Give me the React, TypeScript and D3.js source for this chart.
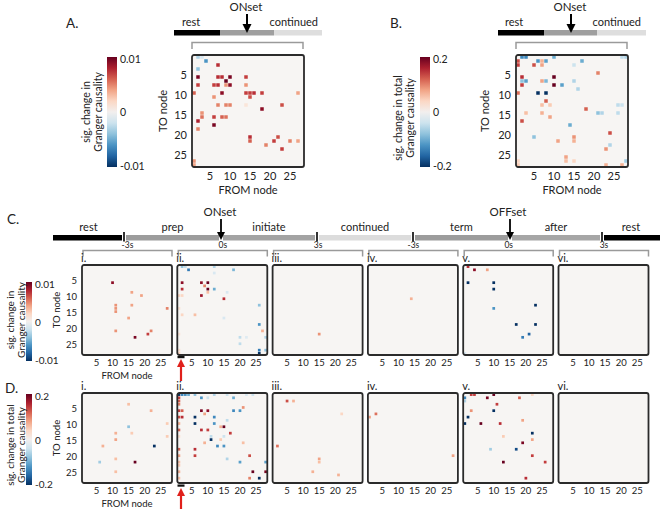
import React from "react";
import * as d3 from "d3";

// ---------------- DATA ----------------
const nodes = d3.range(1, 29); // 28 nodes
const nodeTicks = [5, 10, 15, 20, 25];

type Cell = [number, number, number]; // [FROM node, TO node, value]

const maxGC = 0.01; // Granger causality colour range
const maxTotal = 0.2; // total Granger causality colour range
const ticksGC = ["0.01", "0", "-0.01"];
const ticksTotal = ["0.2", "0", "-0.2"];

const cellsA: Cell[] = [
  [2, 1, -0.003], [3, 1, -0.0015], [4, 2, -0.006], [7, 3, 0.0075], [2, 4, -0.004],
  [2, 6, 0.0095], [7, 6, 0.0075], [8, 6, 0.0075], [10, 6, 0.0095], [14, 6, 0.007],
  [9, 7, 0.01],
  [2, 8, 0.007], [6, 8, 0.007], [7, 8, 0.0075], [9, 8, 0.0045], [10, 8, 0.009], [14, 8, 0.0045],
  [1, 10, 0.006], [8, 10, 0.009], [14, 10, 0.007], [15, 10, 0.007], [16, 10, 0.0075], [18, 10, 0.007], [27, 10, 0.004],
  [6, 11, 0.0045], [15, 11, 0.0065],
  [7, 13, 0.005], [9, 13, 0.005], [10, 13, 0.005], [14, 13, 0.0012], [23, 13, 0.0065],
  [18, 14, 0.009], [3, 15, 0.0045],
  [3, 16, 0.0055], [6, 16, 0.007], [8, 16, 0.006], [9, 16, 0.0055],
  [2, 17, 0.008], [6, 18, 0.0095], [2, 19, 0.005],
  [15, 21, 0.0075],
  [15, 22, 0.006], [21, 22, 0.007], [22, 21, 0.0065], [25, 22, 0.005], [27, 22, 0.004],
  [19, 23, 0.005], [23, 24, 0.007],
  [1, 27, 0.0045], [1, 28, 0.004],
];

const cellsB: Cell[] = [
  [2, 1, -0.13], [3, 1, -0.13], [10, 1, -0.1], [27, 1, -0.05], [28, 1, -0.06],
  [1, 2, 0.13], [6, 2, -0.12], [7, 2, 0.07], [8, 2, -0.11], [17, 2, -0.1],
  [1, 3, 0.14], [5, 3, 0.13], [7, 3, 0.08], [15, 3, -0.04],
  [21, 5, 0.1],
  [2, 6, 0.15], [10, 6, 0.2],
  [2, 7, -0.08], [3, 7, -0.11], [7, 7, 0.08], [8, 7, -0.09], [15, 7, -0.06],
  [2, 8, 0.14], [10, 8, 0.2], [12, 8, -0.11],
  [16, 9, -0.06],
  [1, 10, 0.11], [6, 10, -0.2], [8, 10, -0.2],
  [8, 12, 0.12],
  [7, 13, 0.06], [9, 13, 0.05], [26, 13, -0.05], [27, 13, -0.04],
  [18, 14, 0.12],
  [3, 15, 0.06], [7, 15, 0.07], [21, 15, -0.08], [22, 15, -0.06], [26, 15, -0.05],
  [9, 16, 0.08], [2, 17, 0.13], [14, 18, -0.1],
  [24, 20, 0.13],
  [5, 21, -0.08], [15, 21, 0.09],
  [11, 22, 0.08], [15, 22, 0.07],
  [24, 23, -0.06], [23, 24, 0.09],
  [13, 26, 0.08],
  [1, 27, 0.04], [13, 27, 0.06], [15, 27, 0.04], [28, 27, -0.07],
  [1, 28, 0.05], [23, 28, 0.07], [27, 28, 0.07],
];

// Row C: Granger causality per epoch
const cellsC1: Cell[] = [
  [10, 6, 0.009], [16, 9, 0.004], [19, 10, 0.004], [11, 13, 0.0045], [16, 13, 0.004],
  [11, 14, 0.0045], [11, 15, 0.0045], [27, 14, 0.005], [15, 17, 0.004], [11, 21, 0.0045],
  [17, 23, 0.0095], [21, 22, 0.007], [22, 21, 0.005],
];
const cellsC2: Cell[] = [
  [2, 1, -0.004], [3, 1, -0.0025], [4, 2, -0.007], [12, 1, -0.003], [12, 3, -0.0015], [18, 2, -0.0045],
  [2, 6, 0.009], [2, 8, 0.0075], [2, 10, 0.002], [1, 10, 0.002],
  [8, 6, 0.009], [9, 7, 0.005], [10, 6, 0.01], [10, 8, 0.01], [10, 9, 0.003], [12, 8, -0.005], [16, 9, -0.0015],
  [8, 10, 0.0085], [15, 11, 0.0075],
  [1, 14, 0.0015], [2, 16, 0.002], [6, 16, 0.003], [15, 17, -0.0015],
  [26, 13, -0.004], [26, 19, -0.006], [27, 21, 0.0035], [20, 23, -0.0025], [22, 23, -0.0012],
  [20, 25, -0.0025], [28, 23, -0.003], [28, 27, -0.004], [26, 27, -0.007], [26, 28, -0.01],
  [1, 22, 0.0012], [1, 27, 0.0015], [1, 28, 0.002],
];
const cellsC3: Cell[] = [[15, 22, 0.0045]];
const cellsC4: Cell[] = [[14, 11, 0.0035]];
const cellsC5: Cell[] = [
  [2, 1, 0.0075], [4, 2, 0.009], [8, 2, 0.004], [2, 6, -0.01], [10, 6, -0.01], [10, 8, -0.01],
  [10, 14, -0.006], [23, 13, -0.01], [17, 19, -0.01], [23, 19, -0.01], [21, 22, -0.008],
  [19, 23, -0.007], [1, 28, -0.0015],
];
const cellsC6: Cell[] = [];

// Row D: total Granger causality per epoch
const cellsD1: Cell[] = [
  [15, 4, 0.06], [22, 6, 0.07], [27, 10, 0.05], [15, 11, -0.08], [11, 13, 0.07], [16, 13, 0.05],
  [11, 15, 0.08], [27, 14, 0.05], [23, 17, -0.2], [7, 17, 0.07], [11, 21, 0.06], [6, 22, -0.07],
  [17, 22, 0.2], [11, 25, 0.06],
];
const cellsD2: Cell[] = [
  [1, 1, -0.2], [2, 1, -0.13], [3, 1, -0.12], [4, 1, -0.1], [6, 1, -0.08], [12, 1, -0.06],
  [16, 1, -0.04], [22, 1, -0.03], [24, 1, -0.04], [8, 2, -0.12], [10, 2, -0.04], [18, 2, -0.1],
  [1, 2, 0.14], [1, 3, 0.12], [1, 4, 0.1], [1, 6, 0.14], [2, 6, 0.12], [1, 8, 0.13], [2, 8, 0.15],
  [1, 10, 0.07], [1, 12, 0.12], [1, 14, 0.03], [1, 18, 0.12], [1, 20, 0.08], [1, 22, 0.06],
  [1, 23, 0.05], [1, 25, 0.07], [1, 27, 0.06],
  [6, 8, -0.2], [6, 10, -0.2], [8, 6, 0.19], [10, 6, 0.18], [9, 7, 0.08], [12, 8, -0.13],
  [12, 10, -0.12], [16, 9, -0.05], [18, 6, -0.13], [20, 6, -0.12], [21, 5, 0.09],
  [8, 12, 0.15], [10, 12, 0.14], [14, 11, 0.07], [15, 11, 0.2], [17, 13, 0.14], [11, 14, -0.05],
  [11, 15, -0.2], [13, 17, -0.13], [15, 14, -0.04], [15, 17, -0.12], [14, 15, 0.05], [9, 16, 0.07],
  [21, 16, 0.06], [6, 18, 0.15], [6, 20, 0.14], [16, 21, -0.06], [23, 20, 0.13], [20, 22, -0.11],
  [28, 22, -0.11], [24, 25, 0.2], [28, 25, 0.19], [23, 27, 0.1], [26, 27, -0.2],
];
const cellsD3: Cell[] = [
  [5, 3, 0.13], [7, 3, 0.07], [22, 7, 0.04], [2, 17, 0.11], [15, 21, 0.08], [15, 22, 0.06],
  [13, 25, 0.07], [21, 26, 0.07],
];
const cellsD4: Cell[] = [[1, 8, 0.08], [3, 7, 0.11], [27, 20, 0.08]];
const cellsD5: Cell[] = [
  [1, 2, -0.13], [1, 3, -0.06], [3, 1, 0.14], [4, 1, 0.14], [8, 2, 0.19], [10, 1, 0.2],
  [18, 2, 0.12], [22, 1, 0.04], [3, 6, 0.09], [2, 8, -0.2], [1, 10, -0.2], [6, 10, 0.2],
  [10, 6, -0.2], [11, 4, 0.14], [12, 10, 0.15], [19, 9, 0.08], [22, 13, -0.2], [13, 14, 0.05],
  [19, 16, 0.19], [22, 15, 0.08], [9, 18, -0.07], [17, 18, -0.18], [22, 20, 0.14], [13, 22, 0.2],
  [26, 22, 0.14], [20, 27, 0.15],
];
const cellsD6: Cell[] = [];

const cellsRowC = [cellsC1, cellsC2, cellsC3, cellsC4, cellsC5, cellsC6];
const cellsRowD = [cellsD1, cellsD2, cellsD3, cellsD4, cellsD5, cellsD6];

const romanLabels = ["i.", "ii.", "iii.", "iv.", "v.", "vi."];
const phaseLabels = ["rest", "prep", "initiate", "continued", "term", "after", "rest"];
const phaseShades = ["#000000", "#9c9c9c", "#a3a3a3", "#dcdcdc", "#9c9c9c", "#a6a6a6", "#000000"];
const bracketLabels = ["-3s", "0s", "3s", "-3s", "0s", "3s"];
const shortPhases = ["rest", "", "continued"];
const shortShades = ["#000000", "#9f9f9f", "#dedede"];

// ---------------- LAYOUT ----------------
const FONT = "Lato, 'Open Sans', sans-serif";
const TXT = "#222";
const phaseEdges = [53, 124, 221, 317, 413, 510, 602, 660];
const rowX = d3.range(6).map((i) => 82 + i * 95.3);

function Arrow({ x, y1, y2, color, w, hw, hl }: any) {
  return (
    <g>
      <line x1={x} x2={x} y1={y1} y2={y2 - hl + 1} stroke={color} strokeWidth={w} />
      <path d={`M${x - hw / 2},${y2 - hl} L${x + hw / 2},${y2 - hl} L${x},${y2} Z`} fill={color} />
    </g>
  );
}

function ArrowUp({ x, y1, y2, color, w, hw, hl }: any) {
  return (
    <g>
      <line x1={x} x2={x} y1={y1} y2={y2 + hl - 1} stroke={color} strokeWidth={w} />
      <path d={`M${x - hw / 2},${y2 + hl} L${x + hw / 2},${y2 + hl} L${x},${y2} Z`} fill={color} />
    </g>
  );
}

function Matrix({ x, y, size, cells, max, yTicks, xTicks, titles, fs, yTitleOff }: any) {
  const sc = d3.scaleBand<number>().domain(nodes).range([0, size]);
  const color = d3.scaleDiverging<string>(d3.interpolateRdBu).domain([max, 0, -max]);
  const bw = sc.bandwidth();
  return (
    <g transform={`translate(${x},${y})`} fontFamily={FONT} fill={TXT}>
      <rect width={size} height={size} fill="#f7f5f3" rx={2} />
      {cells.map(([f, t, v]: Cell, i: number) => (
        <rect key={i} x={sc(f)! + 0.25} y={sc(t)! + 0.25} width={bw - 0.5} height={bw - 0.5} fill={color(v)} />
      ))}
      <rect width={size} height={size} fill="none" stroke="#2b2b2b" strokeWidth={1.8} rx={2} />
      {yTicks &&
        nodeTicks.map((n) => (
          <text key={"y" + n} x={-5} y={sc(n)! + bw / 2 + 1} textAnchor="end" dominantBaseline="central" fontSize={fs}>
            {n}
          </text>
        ))}
      {xTicks &&
        nodeTicks.map((n) => (
          <text key={"x" + n} x={sc(n)! + bw / 2} y={size + fs + 1.5} textAnchor="middle" fontSize={fs}>
            {n}
          </text>
        ))}
      {titles && (
        <g>
          <text x={size / 2} y={size + fs * 2 + 4.5} textAnchor="middle" fontSize={fs}>
            FROM node
          </text>
          <text transform={`translate(${-yTitleOff},${size / 2}) rotate(-90)`} textAnchor="middle" fontSize={fs}>
            TO node
          </text>
        </g>
      )}
    </g>
  );
}

function ColorBar({ id, x, y, w, h, labels, lines, fs, l1, l2 }: any) {
  const stops = d3.range(0, 1.0001, 0.1);
  return (
    <g fontFamily={FONT} fill={TXT}>
      <defs>
        <linearGradient id={id} x1="0" y1="0" x2="0" y2="1">
          {stops.map((t) => (
            <stop key={t} offset={`${t * 100}%`} stopColor={d3.interpolateRdBu(t)} />
          ))}
        </linearGradient>
      </defs>
      <rect x={x} y={y} width={w} height={h} fill={`url(#${id})`} />
      {labels.map((lab: string, i: number) => (
        <text key={i} x={x + w + 3} y={y + (h * i) / 2 + (i === 0 ? 2 : i === 2 ? -1 : 0)} dominantBaseline="central" fontSize={fs}>
          {lab}
        </text>
      ))}
      <text transform={`translate(${l1[0]},${l1[1]}) rotate(-90)`} textAnchor="middle" dominantBaseline="central" fontSize={fs}>
        {lines[0]}
      </text>
      <text transform={`translate(${l2[0]},${l2[1]}) rotate(-90)`} textAnchor="middle" dominantBaseline="central" fontSize={fs}>
        {lines[1]}
      </text>
    </g>
  );
}

function ShortTimeline({ edges, labelRest, labelCont, arrowX }: any) {
  return (
    <g fontFamily={FONT} fill={TXT}>
      {shortShades.map((c, i) => (
        <rect key={i} x={edges[i]} y={30} width={edges[i + 1] - edges[i]} height={5.5} fill={c} />
      ))}
      <text x={labelRest} y={26} fontSize={11}>
        {shortPhases[0]}
      </text>
      <text x={labelCont} y={26} fontSize={11} textAnchor="end">
        {shortPhases[2]}
      </text>
      <text x={arrowX} y={11} fontSize={11.5} textAnchor="middle">
        ONset
      </text>
      <Arrow x={arrowX + 1} y1={14} y2={33} color="#000" w={2} hw={9} hl={9} />
    </g>
  );
}

function Bracket({ x1, x2, y, h, label, fs }: any) {
  return (
    <g>
      <path d={`M${x1},${y + h} L${x1},${y} L${x2},${y} L${x2},${y + h}`} fill="none" stroke="#9a9a9a" strokeWidth={1.5} />
      {label && (
        <text x={(x1 + x2) / 2} y={y - 3} textAnchor="middle" fontSize={fs} fontFamily={FONT} fill={TXT}>
          {label}
        </text>
      )}
    </g>
  );
}

export default function App() {
  const tickLines = [124, 317, 413, 602];
  return (
    <svg width={666} height={509} style={{ position: "absolute", left: 0, top: 0, background: "#fff" }}>
      <rect width={666} height={509} fill="#fff" />
      {/* ---------- Panel A ---------- */}
      <text x={66} y={28} fontSize={13.5} fontFamily={FONT} fill={TXT}>A.</text>
      <ShortTimeline edges={[174, 220, 274, 322]} labelRest={182} labelCont={318} arrowX={246} />
      <Bracket x1={192} x2={303} y={42.5} h={6.5} />
      <ColorBar id="cbA" x={107} y={57} w={10} h={110} labels={ticksGC} fs={10.5}
        lines={["sig. change in", "Granger causality"]} l1={[86, 112]} l2={[98, 112]} />
      <Matrix x={192} y={55} size={112} cells={cellsA} max={maxGC} yTicks xTicks titles fs={11} yTitleOff={25} />

      {/* ---------- Panel B ---------- */}
      <text x={390} y={28} fontSize={13.5} fontFamily={FONT} fill={TXT}>B.</text>
      <ShortTimeline edges={[498, 544, 597, 646]} labelRest={505} labelCont={641} arrowX={570} />
      <Bracket x1={516} x2={627} y={42.5} h={6.5} />
      <ColorBar id="cbB" x={420} y={57} w={10} h={110} labels={ticksTotal} fs={10.5}
        lines={["sig. change in total", "Granger causality"]} l1={[398, 118]} l2={[410, 118]} />
      <Matrix x={516} y={55} size={112} cells={cellsB} max={maxTotal} yTicks xTicks titles fs={11} yTitleOff={27} />

      {/* ---------- Panel C timeline ---------- */}
      <text x={7} y={224} fontSize={13.5} fontFamily={FONT} fill={TXT}>C.</text>
      {phaseLabels.map((lab, i) => {
        const a = phaseEdges[i] + (i === 0 ? 0 : 2);
        const b = phaseEdges[i + 1] - (i === phaseLabels.length - 1 ? 0 : 2);
        return (
          <g key={i}>
            <rect x={a} y={235} width={b - a} height={5.5} fill={phaseShades[i]} />
            <text x={(phaseEdges[i] + phaseEdges[i + 1]) / 2} y={231} textAnchor="middle" fontSize={11} fontFamily={FONT} fill={TXT}>
              {lab}
            </text>
          </g>
        );
      })}
      {tickLines.map((t) => (
        <line key={t} x1={t} x2={t} y1={232} y2={241.5} stroke="#000" strokeWidth={1.6} />
      ))}
      <text x={220} y={216} textAnchor="middle" fontSize={11.5} fontFamily={FONT} fill={TXT}>ONset</text>
      <Arrow x={221} y1={219} y2={240} color="#000" w={1.8} hw={8} hl={8} />
      <text x={508} y={216} textAnchor="middle" fontSize={11.5} fontFamily={FONT} fill={TXT}>OFFset</text>
      <Arrow x={510} y1={219} y2={240} color="#000" w={1.8} hw={8} hl={8} />
      {rowX.map((x, i) => (
        <Bracket key={i} x1={x + 1} x2={x + 90} y={250.5} h={6} label={bracketLabels[i]} fs={8.5} />
      ))}

      {/* ---------- Panel C matrices ---------- */}
      <ColorBar id="cbC" x={26} y={282} w={6} h={79} labels={ticksGC} fs={10}
        lines={["sig. change in", "Granger causality"]} l1={[10, 320]} l2={[21, 320]} />
      {rowX.map((x, i) => (
        <g key={i}>
          <text x={x - 1} y={262} fontSize={11} fontFamily={FONT} fill={TXT}>{romanLabels[i]}</text>
          <Matrix x={x} y={265} size={90} cells={cellsRowC[i]} max={maxGC} yTicks={i === 0} xTicks titles={i === 0} fs={9.5} yTitleOff={22} />
        </g>
      ))}
      <rect x={177.5} y={356} width={7} height={2.2} fill="#111" />
      <ArrowUp x={181} y1={381} y2={359} color="#e0201b" w={2.2} hw={8} hl={8} />

      {/* ---------- Panel D ---------- */}
      <text x={5} y={393} fontSize={13.5} fontFamily={FONT} fill={TXT}>D.</text>
      <ColorBar id="cbD" x={26} y={394} w={6} h={91} labels={ticksTotal} fs={10}
        lines={["sig. change in total", "Granger causality"]} l1={[10, 445]} l2={[21, 445]} />
      {rowX.map((x, i) => (
        <g key={i}>
          <text x={x - 1} y={390} fontSize={11} fontFamily={FONT} fill={TXT}>{romanLabels[i]}</text>
          <Matrix x={x} y={393} size={90} cells={cellsRowD[i]} max={maxTotal} yTicks={i === 0} xTicks titles={i === 0} fs={9.5} yTitleOff={22} />
        </g>
      ))}
      <rect x={177.5} y={484.5} width={7} height={2.2} fill="#111" />
      <ArrowUp x={181} y1={510} y2={488} color="#e0201b" w={2.2} hw={8} hl={8} />
    </svg>
  );
}
